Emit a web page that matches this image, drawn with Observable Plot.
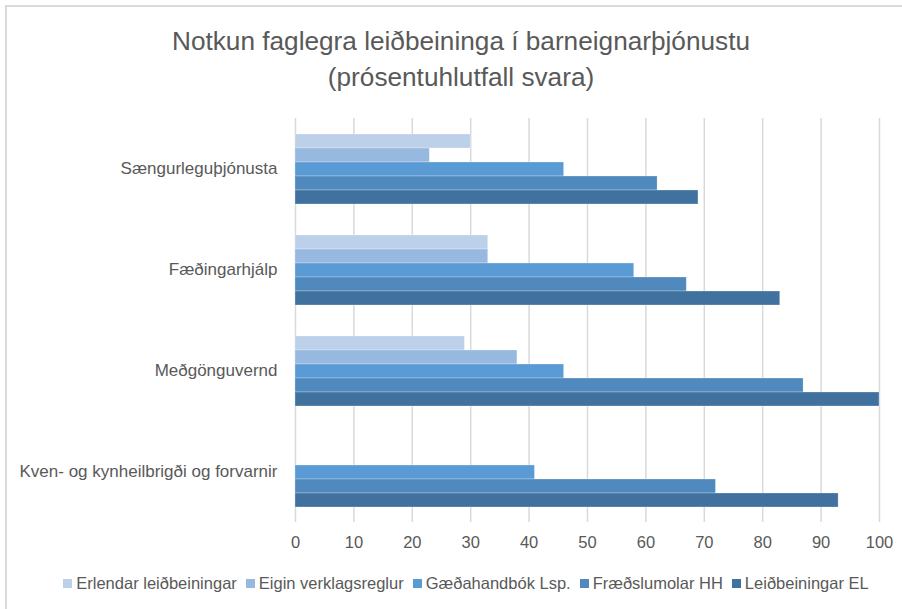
<!DOCTYPE html>
<html>
<head>
<meta charset="utf-8">
<script src="https://cdn.jsdelivr.net/npm/d3@7"></script>
<script src="https://cdn.jsdelivr.net/npm/@observablehq/plot@0.6"></script>
<style>
  html, body { margin: 0; padding: 0; background: #fff; overflow: hidden; }
  body { width: 902px; height: 609px; position: relative; font-family: "Liberation Sans", "DejaVu Sans", sans-serif; color: #595959; }
  #frame { position: absolute; left: 5px; top: 5px; width: 1000px; height: 700px; border-top: 2px solid #d9d9d9; border-left: 2px solid #d9d9d9; }
  #title { position: absolute; left: 0; width: 922px; top: 23px; text-align: center; font-size: 26.2px; line-height: 36px; color: #595959; }
  #chart { position: absolute; left: 0; top: 100px; }
  #legend { position: absolute; top: 574px; left: 0; width: 932px; display: flex; justify-content: center; gap: 9px; font-size: 16.5px; color: #595959; }
  .item { display: flex; align-items: center; gap: 4px; white-space: nowrap; }
  .sw { width: 9px; height: 9px; display: inline-block; }
  #chart svg g[aria-label="fy-axis tick label"] text { font-size: 17px; }
</style>
</head>
<body>
<div id="frame"></div>
<div id="title">Notkun faglegra leiðbeininga í barneignarþjónustu<br>(prósentuhlutfall svara)</div>
<div id="chart"></div>
<div id="legend"></div>
<script>
const categories = ["Sængurleguþjónusta", "Fæðingarhjálp", "Meðgönguvernd", "Kven- og kynheilbrigði og forvarnir"];
const series = ["Erlendar leiðbeiningar", "Eigin verklagsreglur", "Gæðahandbók Lsp.", "Fræðslumolar HH", "Leiðbeiningar EL"];
const erlendarLeidbeiningar = [30, 33, 29, null];
const eiginVerklagsreglur = [23, 33, 38, null];
const gaedahandbokLsp = [46, 58, 46, 41];
const fraedslumolarHH = [62, 67, 87, 72];
const leidbeiningarEL = [69, 83, 100, 93];
const xTicks = [0, 10, 20, 30, 40, 50, 60, 70, 80, 90, 100];
const colors = ["#bdd0ea", "#97b9e0", "#5b9bd5", "#4f89bd", "#41729f"];

const seriesValues = [erlendarLeidbeiningar, eiginVerklagsreglur, gaedahandbokLsp, fraedslumolarHH, leidbeiningarEL];
const data = [];
categories.forEach((c, i) => {
  series.forEach((s, j) => {
    const v = seriesValues[j][i];
    if (v != null) data.push({category: c, series: s, value: v});
  });
});

const chart = Plot.plot({
  width: 902,
  height: 470,
  marginTop: 18,
  marginBottom: 48,
  marginLeft: 295,
  marginRight: 23,
  style: {fontFamily: '"Liberation Sans", "DejaVu Sans", sans-serif', fontSize: "16.5px", color: "#595959", background: "transparent"},
  x: {domain: [0, 100], ticks: xTicks, tickSize: 0, tickPadding: 14, label: null, line: false},
  fy: {domain: categories, padding: 0, label: null, axis: "left", tickSize: 0, tickPadding: 18},
  y: {domain: series, axis: null, paddingInner: 0, paddingOuter: 0.912},
  color: {domain: series, range: colors},
  marks: [
    Plot.ruleX(xTicks, {stroke: "#d9d9d9", strokeWidth: 1.5}),
    Plot.barX(data, {x: "value", y: "series", fy: "category", fill: "series", stroke: "white", strokeOpacity: 0.35, strokeWidth: 0.75})
  ]
});
document.getElementById("chart").appendChild(chart);

const legend = document.getElementById("legend");
series.forEach((s, j) => {
  const item = document.createElement("div");
  item.className = "item";
  const sw = document.createElement("span");
  sw.className = "sw";
  sw.style.background = colors[j];
  const t = document.createElement("span");
  t.textContent = s;
  item.appendChild(sw);
  item.appendChild(t);
  legend.appendChild(item);
});
</script>
</body>
</html>
